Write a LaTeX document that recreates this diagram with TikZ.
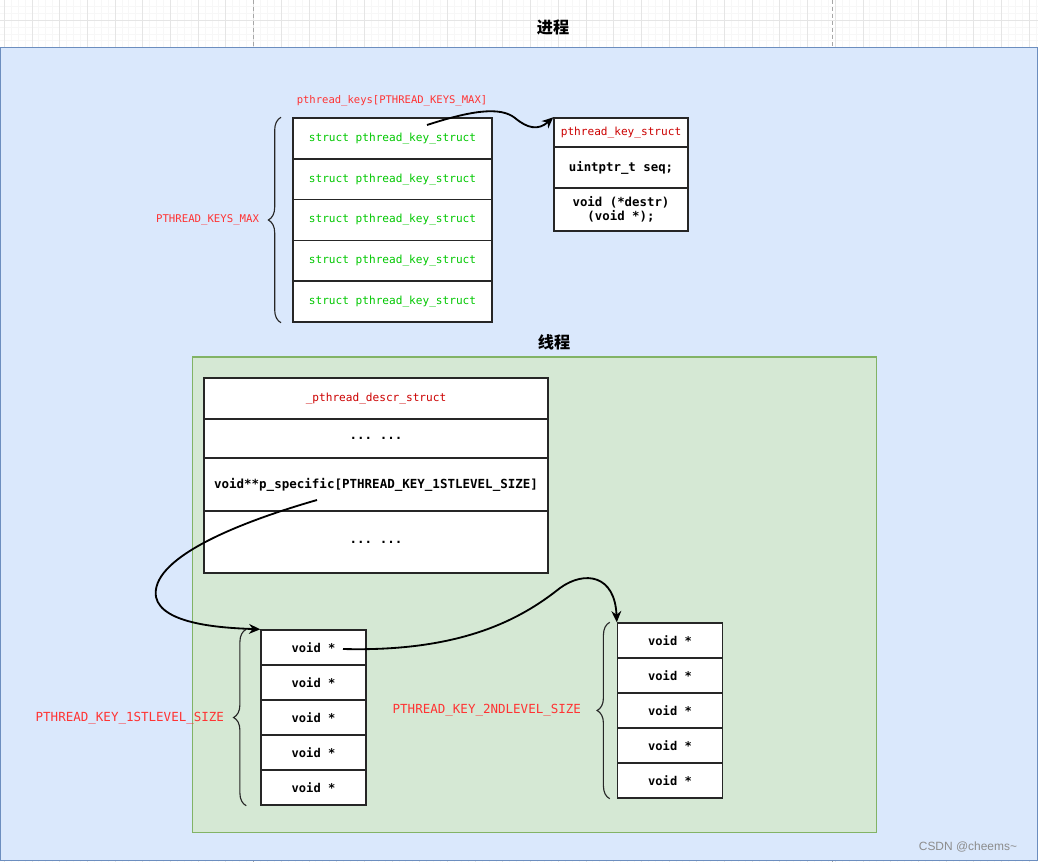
\documentclass[tikz,border=0pt]{standalone}
\usepackage{fontspec}
\setmonofont{DejaVu Sans Mono}
\newfontfamily\cjk{Noto Sans CJK SC}
\newfontfamily\wmfont{Liberation Sans}
\usetikzlibrary{arrows.meta,decorations.pathreplacing}

\definecolor{procfill}{RGB}{218,232,252}
\definecolor{procline}{RGB}{108,142,191}
\definecolor{thrfill}{RGB}{213,232,212}
\definecolor{thrline}{RGB}{130,179,102}
\definecolor{keygreen}{RGB}{0,200,0}
\definecolor{headred}{RGB}{204,0,0}
\definecolor{labelred}{RGB}{255,51,51}

\begin{document}
\begin{tikzpicture}[
  x=0.025cm, y=-0.025cm,
  >=Stealth,
  every node/.style={font=\ttfamily},
  region/.style={rectangle, line width=0.8pt},
  title/.style={font=\cjk\bfseries\fontsize{11.5}{13}\selectfont},
  cell/.style={rectangle, draw=black!85, line width=1pt, fill=white,
               inner sep=1pt, align=center},
  keycell/.style={cell, minimum width=4.975cm, minimum height=1.02cm,
                  text=keygreen, font=\ttfamily\fontsize{7.9}{9}\selectfont},
  ksrow/.style={cell, minimum width=3.35cm,
                font=\ttfamily\bfseries\fontsize{8.8}{10}\selectfont},
  descrrow/.style={cell, minimum width=8.6cm,
                   font=\ttfamily\bfseries\fontsize{8.9}{10}\selectfont},
  ptrcell/.style={cell, minimum width=2.625cm, minimum height=0.875cm,
                  font=\ttfamily\bfseries\fontsize{8.6}{10}\selectfont},
  header/.style={text=headred, font=\ttfamily\fontsize{7.9}{9}\selectfont},
  arrname/.style={text=labelred, font=\ttfamily\fontsize{7.5}{9}\selectfont},
  sizelabel/.style={anchor=east, text=labelred,
                    font=\ttfamily\fontsize{8.9}{10}\selectfont},
  sizebrace/.style={decorate, decoration={brace, amplitude=9pt},
                    line width=0.8pt, black!85},
  ptr/.style={-{Stealth[length=8pt, width=7pt]}, line width=1.3pt},
]
\useasboundingbox (0,0) rectangle (1038,862);

% ----------------------------------------------------------- page grid --
\begin{scope}
  \clip (0,0) rectangle (1038,862);
  \foreach \gx in {4.1,11.025,...,1040} \draw[black!3] (\gx,0) -- (\gx,862);
  \foreach \gy in {6.15,13.075,...,48} \draw[black!3] (0,\gy) -- (1038,\gy);
  \foreach \gx in {4.1,31.8,...,1040} \draw[black!10] (\gx,0) -- (\gx,862);
  \draw[black!10] (0,20) -- (1038,20);
  \draw[black!35, dash pattern=on 3pt off 2pt] (253.4,0) -- (253.4,862);
  \draw[black!35, dash pattern=on 3pt off 2pt] (832,0) -- (832,862);
\end{scope}

% -------------------------------------------------------------- process --
\node[region, draw=procline, fill=procfill, minimum width=25.9cm,
      minimum height=20.3cm] (process) at (519,454) {};
\node[title] (proctitle) at (553,27) {进程};

\node[arrname] (keysname) at (392,101) {pthread\_keys[PTHREAD\_KEYS\_MAX]};
\node[keycell] (key1) at (392.5,138.4) {struct pthread\_key\_struct};
\node[keycell] (key2) at (392.5,179.2) {struct pthread\_key\_struct};
\node[keycell] (key3) at (392.5,220)   {struct pthread\_key\_struct};
\node[keycell] (key4) at (392.5,260.8) {struct pthread\_key\_struct};
\node[keycell] (key5) at (392.5,301.6) {struct pthread\_key\_struct};

\draw[sizebrace] ([xshift=-8pt]key5.south west) -- ([xshift=-8pt]key1.north west);
\node[sizelabel, font=\ttfamily\fontsize{7.6}{9}\selectfont] (keysmax) at (264,220) {PTHREAD\_KEYS\_MAX};

\node[ksrow, header, minimum height=0.725cm] (kshead) at (621,132.5) {pthread\_key\_struct};
\node[ksrow, minimum height=1.025cm] (ksseq) at (621,167.5) {uintptr\_t seq;};
\node[ksrow, minimum height=1.075cm] (ksdestr) at (621,209.5) {void (*destr)\\(void *);};

\coordinate (keyref) at (427,125);
\draw[ptr] (keyref) .. controls (470,111) and (500,106) .. (515,118)
  .. controls (527,128) and (538,131) .. (kshead.north west);

% --------------------------------------------------------------- thread --
\node[region, draw=thrline, fill=thrfill, minimum width=17.075cm,
      minimum height=11.875cm] (thread) at (534.5,594.5) {};
\node[title] (thrtitle) at (554,342) {线程};

\node[descrrow, header, minimum height=1.025cm] (descr1) at (376,398.5) {\_pthread\_descr\_struct};
\node[descrrow, minimum height=0.975cm] (descr2) at (376,438.5) {... ...};
\node[descrrow, minimum height=1.325cm] (descr3) at (376,484.5) {void**p\_specific[PTHREAD\_KEY\_1STLEVEL\_SIZE]};
\node[descrrow, minimum height=1.55cm] (descr4) at (376,542) {... ...};

% first level table
\node[ptrcell] (lvlone1) at (313.5,647.5) {void *};
\node[ptrcell] (lvlone2) at (313.5,682.5) {void *};
\node[ptrcell] (lvlone3) at (313.5,717.5) {void *};
\node[ptrcell] (lvlone4) at (313.5,752.5) {void *};
\node[ptrcell] (lvlone5) at (313.5,787.5) {void *};

\draw[sizebrace] ([xshift=-10pt]lvlone5.south west) -- ([xshift=-10pt]lvlone1.north west);
\node[sizelabel] (firstsize) at (229,718) {PTHREAD\_KEY\_1STLEVEL\_SIZE};

% second level table
\node[ptrcell] (lvltwo1) at (670,640.5) {void *};
\node[ptrcell] (lvltwo2) at (670,675.5) {void *};
\node[ptrcell] (lvltwo3) at (670,710.5) {void *};
\node[ptrcell] (lvltwo4) at (670,745.5) {void *};
\node[ptrcell] (lvltwo5) at (670,780.5) {void *};

\draw[sizebrace] ([xshift=-5pt]lvltwo5.south west) -- ([xshift=-5pt]lvltwo1.north west);
\node[sizelabel] (secondsize) at (586,710) {PTHREAD\_KEY\_2NDLEVEL\_SIZE};

% ------------------------------------------------------------- pointers --
\coordinate (pspec) at (317,500);
\draw[ptr] (pspec) .. controls (230,525) and (150,560) .. (156,597)
  .. controls (162,625) and (225,628) .. (lvlone1.north west);

\coordinate (slotref) at (343,649);
\draw[ptr] (slotref) .. controls (460,652) and (520,620) .. (560,588)
  .. controls (585,570) and (615,575) .. (lvltwo1.north west);

\node[font=\wmfont\fontsize{8.5}{10}\selectfont, text=black!45, anchor=east]
  (watermark) at (1022,847) {CSDN @cheems\textasciitilde};

\end{tikzpicture}
\end{document}
